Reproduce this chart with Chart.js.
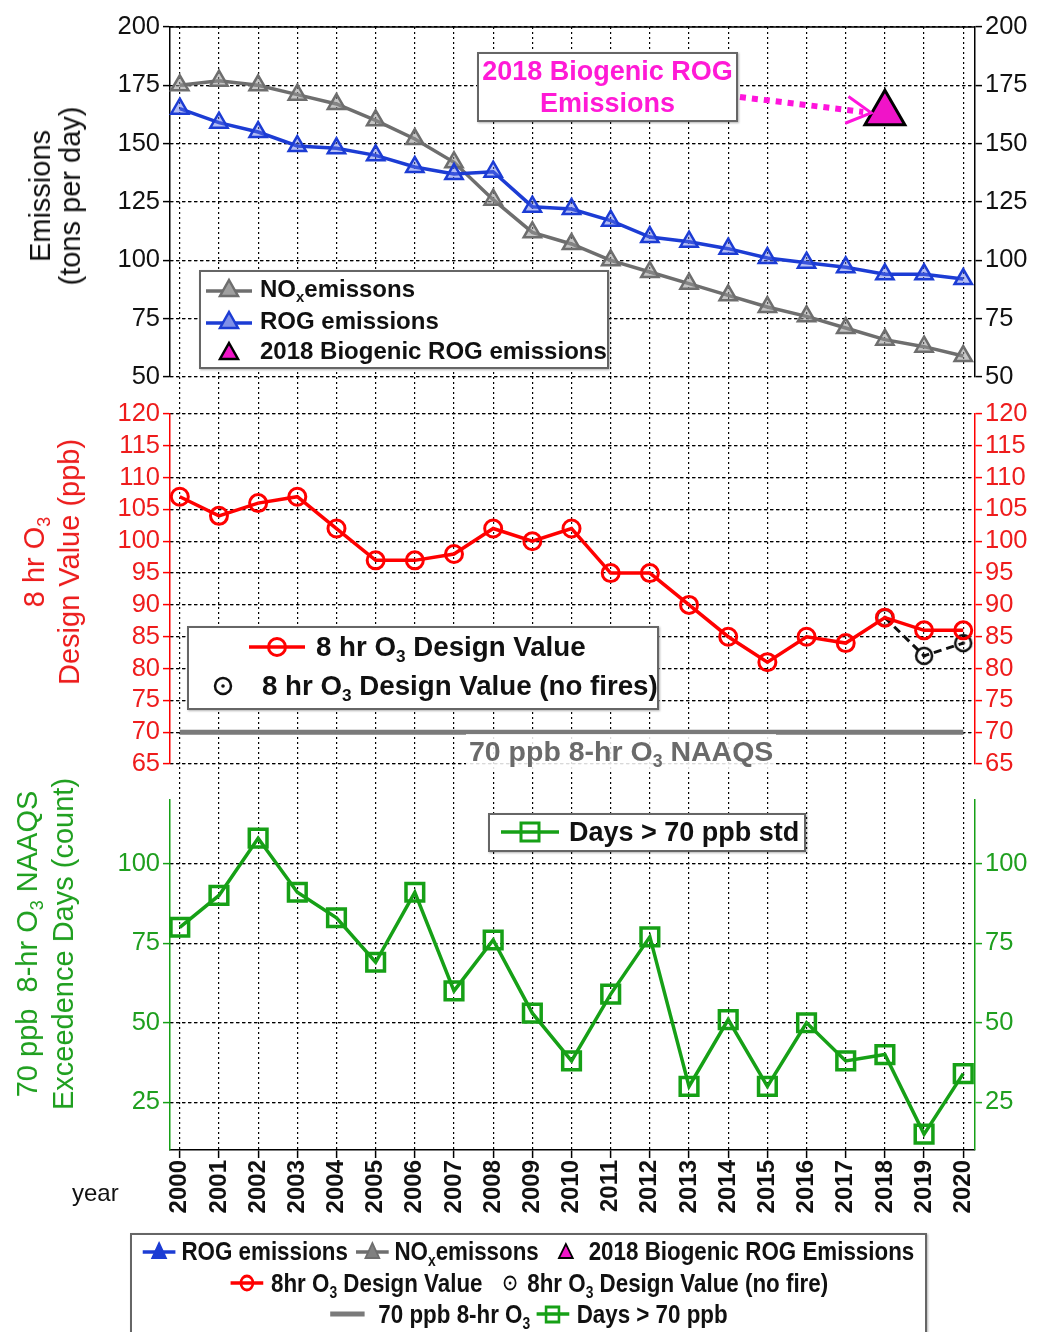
<!DOCTYPE html>
<html>
<head>
<meta charset="utf-8">
<script src="https://cdn.jsdelivr.net/npm/chart.js@4.4.1/dist/chart.umd.min.js"></script>
<style>
body { margin: 0; background: #fff; font-family: 'Liberation Sans', Arial, sans-serif; }
#wrap { position: relative; width: 1040px; height: 1332px; overflow: hidden; }
canvas { position: absolute; left: 0; top: 0; }
.box { position: absolute; background: #fff; border: 2px solid #666; box-sizing: border-box; box-shadow: 1px 1px 2px rgba(0,0,0,.3); }
.row { position: absolute; white-space: nowrap; font-weight: bold; color: #111; display: flex; align-items: center; height: 30px; }
.ytitle { position: absolute; transform: translate(-50%, -50%) rotate(-90deg); text-align: center; white-space: nowrap; font-size: 29px; }
sub { font-size: 0.62em; vertical-align: -0.35em; line-height: 0; }
.narrow { font-size: 26px; }
.bl { left: 0; right: 0; justify-content: center; }
.squeeze { display: flex; align-items: center; transform: scaleX(0.86); transform-origin: center; flex: none; }
</style>
</head>
<body>
<div id="wrap">
  <canvas id="chart" width="1040" height="1332"></canvas>

  <!-- axis titles -->
  <div class="ytitle" style="left:55px;top:196px;line-height:30px;color:#111">Emissions<br>(tons per day)</div>
  <div class="ytitle" style="left:52px;top:562px;line-height:35px;color:#ec1c1c">8 hr O<sub>3</sub><br>Design Value (ppb)</div>
  <div class="ytitle" style="left:45px;top:944px;line-height:36px;color:#1f9f1f">70 ppb&nbsp; 8-hr O<sub>3</sub> NAAQS<br>Exceedence Days (count)</div>
  <div style="position:absolute;left:72px;top:1179px;font-size:24px;color:#111">year</div>

  <!-- biogenic note -->
  <div class="box" style="left:477px;top:52px;width:261px;height:70px;text-align:center;font-weight:bold;font-size:27px;line-height:32px;color:#ff1ad6;padding-top:1px;white-space:nowrap">2018 Biogenic ROG<br>Emissions</div>

  <!-- emissions legend -->
  <div class="box" style="left:199px;top:270px;width:410px;height:99px;font-size:24px">
    <div class="row" style="left:4px;top:2px">
      <svg width="48" height="24"><line x1="1" y1="14" x2="47" y2="14" stroke="#6e6e6e" stroke-width="3.5"/><polygon points="24,3 33,19 15,19" fill="#a0a0a0" stroke="#6e6e6e" stroke-width="2.5"/></svg>
      <span style="margin-left:7px">NO<sub>x</sub>emissons</span></div>
    <div class="row" style="left:4px;top:34px">
      <svg width="48" height="24"><line x1="1" y1="14" x2="47" y2="14" stroke="#1c3cd4" stroke-width="3.5"/><polygon points="24,3 33,19 15,19" fill="#8090e8" stroke="#1c3cd4" stroke-width="2.5"/></svg>
      <span style="margin-left:7px">ROG emissions</span></div>
    <div class="row" style="left:4px;top:64px">
      <svg width="48" height="24"><polygon points="24,4 33,20 15,20" fill="#f014c8" stroke="#000" stroke-width="2.5"/></svg>
      <span style="margin-left:7px">2018 Biogenic ROG emissions</span></div>
  </div>

  <!-- design value legend -->
  <div class="box" style="left:187px;top:626px;width:472px;height:84px;font-size:27.7px">
    <div class="row" style="left:59px;top:4px">
      <svg width="58" height="24"><line x1="1" y1="12" x2="57" y2="12" stroke="#ff0000" stroke-width="3.5"/><circle cx="29" cy="12" r="8.5" fill="none" stroke="#ff0000" stroke-width="3"/></svg>
      <span style="margin-left:10px">8 hr O<sub>3</sub> Design Value</span></div>
    <div class="row" style="left:23px;top:43px">
      <svg width="22" height="22"><circle cx="11" cy="11" r="8" fill="none" stroke="#111" stroke-width="2.5"/><circle cx="11" cy="11" r="1.8" fill="#111"/></svg>
      <span style="margin-left:28px">8 hr O<sub>3</sub> Design Value (no fires)</span></div>
  </div>

  <div style="position:absolute;left:466px;top:734px;font-size:28.5px;font-weight:bold;color:#6a6a6a;background:rgba(255,255,255,.85);padding:0 3px;line-height:35px;white-space:nowrap">70 ppb 8-hr O<sub>3</sub> NAAQS</div>

  <!-- days legend -->
  <div class="box" style="left:488px;top:813px;width:318px;height:39px;font-size:27px">
    <div class="row" style="left:10px;top:2px">
      <svg width="60" height="26"><line x1="1" y1="13" x2="59" y2="13" stroke="#16a016" stroke-width="3.5"/><rect x="21" y="4" width="18" height="18" fill="none" stroke="#16a016" stroke-width="3"/></svg>
      <span style="margin-left:9px">Days &gt; 70 ppb std</span></div>
  </div>

  <!-- bottom legend -->
  <div class="box narrow" style="left:130px;top:1233px;width:797px;height:130px">
    <div class="row bl" style="top:1px"><div class="squeeze">
      <svg width="40" height="24"><line x1="1" y1="13" x2="39" y2="13" stroke="#1c3cd4" stroke-width="3.5"/><polygon points="20,4 28,19 12,19" fill="#1c3cd4" stroke="#1c3cd4" stroke-width="2"/></svg>
      <span style="margin-left:6px">ROG emissions</span>
      <svg width="40" height="24" style="margin-left:8px"><line x1="1" y1="13" x2="39" y2="13" stroke="#6e6e6e" stroke-width="3.5"/><polygon points="20,4 28,19 12,19" fill="#808080" stroke="#6e6e6e" stroke-width="2"/></svg>
      <span style="margin-left:6px">NO<sub>x</sub>emissons</span>
      <svg width="22" height="24" style="margin-left:20px"><polygon points="11,5 19,19 3,19" fill="#f014c8" stroke="#000" stroke-width="2"/></svg>
      <span style="margin-left:16px">2018 Biogenic ROG Emissions</span></div></div>
    <div class="row bl" style="top:33px"><div class="squeeze">
      <svg width="40" height="24"><line x1="1" y1="12" x2="39" y2="12" stroke="#ff0000" stroke-width="3.5"/><circle cx="20" cy="12" r="7" fill="none" stroke="#ff0000" stroke-width="3"/></svg>
      <span style="margin-left:8px">8hr O<sub>3</sub> Design Value</span>
      <svg width="20" height="20" style="margin-left:22px"><circle cx="10" cy="10" r="6.5" fill="none" stroke="#111" stroke-width="2"/><circle cx="10" cy="10" r="1.6" fill="#111"/></svg>
      <span style="margin-left:10px">8hr O<sub>3</sub> Design Value (no fire)</span></div></div>
    <div class="row bl" style="top:64px"><div class="squeeze">
      <svg width="44" height="24"><line x1="2" y1="12" x2="42" y2="12" stroke="#7a7a7a" stroke-width="5"/></svg>
      <span style="margin-left:14px">70 ppb 8-hr O<sub>3</sub></span>
      <svg width="40" height="24" style="margin-left:6px"><line x1="1" y1="12" x2="39" y2="12" stroke="#16a016" stroke-width="3.5"/><rect x="12" y="5" width="15" height="15" fill="none" stroke="#16a016" stroke-width="3"/></svg>
      <span style="margin-left:8px">Days &gt; 70 ppb</span></div></div>
  </div>
</div>

<script>
// ---- data ----
const years = [2000, 2001, 2002, 2003, 2004, 2005, 2006, 2007, 2008, 2009, 2010,
               2011, 2012, 2013, 2014, 2015, 2016, 2017, 2018, 2019, 2020];
const noxEmissions = [175, 177, 175, 171, 167, 160, 152, 142, 126, 112, 107,
                      100, 95, 90, 85, 80, 76, 71, 66, 63, 59];
const rogEmissions = [165, 159, 155, 149, 148, 145, 140, 137, 138, 123, 122,
                      117, 110, 108, 105, 101, 99, 97, 94, 94, 92];
const biogenicYears = [2018];
const biogenicRog = [163];
const designValue = [107, 104, 106, 107, 102, 97, 97, 98, 102, 100, 102,
                     95, 95, 90, 85, 81, 85, 84, 88, 86, 86];
const noFireYears = [2018, 2019, 2020];
const designValueNoFire = [88, 82, 84];
const naaqsYears = [2000, 2020];
const naaqsLevel = [70, 70];
const exceedDays = [80, 90, 108, 91, 83, 69, 91, 60, 76, 53, 38,
                    59, 77, 30, 51, 30, 50, 38, 40, 15, 34];

const emisTicks = [50, 75, 100, 125, 150, 175, 200];
const dvTicks = [65, 70, 75, 80, 85, 90, 95, 100, 105, 110, 115, 120];
const dayTicks = [25, 50, 75, 100];

// arrow from the note box to the biogenic marker (data units)
const arrowFrom = { x: 2014.3, y: 170 };
const arrowTo = { x: 2017.65, y: 163.2 };

const FONT = 'Liberation Sans';
const BLACK = '#111', RED = '#ff0000', GREEN = '#16a016', BLUE = '#1c3cd4', GRAY = '#6e6e6e';

const pts = (xs, ys) => xs.map((x, i) => ({ x: x, y: ys[i] }));

// circle with a dot, for the "no fires" points
const dotCircle = document.createElement('canvas');
dotCircle.width = 22; dotCircle.height = 22;
(function () {
    const c = dotCircle.getContext('2d');
    c.strokeStyle = BLACK; c.lineWidth = 2.5;
    c.beginPath(); c.arc(11, 11, 8, 0, Math.PI * 2); c.stroke();
    c.fillStyle = BLACK;
    c.beginPath(); c.arc(11, 11, 1.8, 0, Math.PI * 2); c.fill();
})();

// one panel axis (left or right side of the stack)
function panelAxis(side, height, weight, color, tickColor, min, max, tickList) {
    return {
        type: 'linear',
        position: side,
        stack: side === 'left' ? 'L' : 'R',
        stackWeight: height,
        weight: weight,
        min: min,
        max: max,
        afterBuildTicks: s => { s.ticks = tickList.map(v => ({ value: v })); },
        afterFit: s => { s.width = side === 'left' ? 170 : 65; },
        ticks: { color: tickColor, font: { family: FONT, size: 25.5 }, padding: 3, autoSkip: false },
        grid: { color: '#000', lineWidth: 1.2, tickColor: color, tickLength: 7, tickWidth: 1.5, tickBorderDash: [] },
        border: { color: color, width: 1.5, dash: [3, 3] }
    };
}

function spacer(side, height, weight) {
    return {
        type: 'linear',
        position: side,
        stack: side === 'left' ? 'L' : 'R',
        stackWeight: height,
        weight: weight,
        ticks: { display: false },
        grid: { display: false },
        border: { display: false },
        afterFit: s => { s.width = side === 'left' ? 170 : 65; }
    };
}

const decorPlugin = {
    id: 'decor',
    beforeDatasetsDraw(chart) {
        const { ctx, chartArea } = chart;
        ctx.save();
        ctx.strokeStyle = '#000';
        ctx.lineWidth = 1.5;
        ctx.beginPath();
        ctx.moveTo(chartArea.left, chartArea.top);
        ctx.lineTo(chartArea.right, chartArea.top);
        ctx.stroke();
        ctx.restore();
    },
    afterDatasetsDraw(chart) {
        const { ctx } = chart;
        const xs = chart.scales.x, ys = chart.scales.yE;
        const x0 = xs.getPixelForValue(arrowFrom.x), y0 = ys.getPixelForValue(arrowFrom.y);
        const x1 = xs.getPixelForValue(arrowTo.x), y1 = ys.getPixelForValue(arrowTo.y);
        const ang = Math.atan2(y1 - y0, x1 - x0);
        ctx.save();
        ctx.strokeStyle = '#ff14dc';
        ctx.lineWidth = 6;
        ctx.setLineDash([6, 6]);
        ctx.beginPath();
        ctx.moveTo(x0, y0);
        ctx.lineTo(x1 - 8 * Math.cos(ang), y1 - 8 * Math.sin(ang));
        ctx.stroke();
        ctx.setLineDash([]);
        ctx.lineWidth = 3;
        ctx.beginPath();
        ctx.moveTo(x1 - 28 * Math.cos(ang - 0.5), y1 - 28 * Math.sin(ang - 0.5));
        ctx.lineTo(x1, y1);
        ctx.lineTo(x1 - 28 * Math.cos(ang + 0.5), y1 - 28 * Math.sin(ang + 0.5));
        ctx.stroke();
        ctx.restore();
    }
};

new Chart(document.getElementById('chart'), {
    type: 'line',
    data: {
        datasets: [
            {
                label: '70 ppb 8-hr O3', data: pts(naaqsYears, naaqsLevel), yAxisID: 'yDV',
                borderColor: '#7a7a7a', borderWidth: 5, pointRadius: 0, order: 10
            },
            {
                label: 'NOx emissons', data: pts(years, noxEmissions), yAxisID: 'yE',
                borderColor: GRAY, borderWidth: 3.5, pointStyle: 'triangle', pointRadius: 10,
                pointBorderWidth: 2.5, pointBorderColor: GRAY, pointBackgroundColor: 'rgba(150,150,150,0.55)', order: 6
            },
            {
                label: 'ROG emissions', data: pts(years, rogEmissions), yAxisID: 'yE',
                borderColor: BLUE, borderWidth: 3.5, pointStyle: 'triangle', pointRadius: 10,
                pointBorderWidth: 2.5, pointBorderColor: BLUE, pointBackgroundColor: 'rgba(90,110,230,0.45)', order: 5
            },
            {
                label: '2018 Biogenic ROG Emissions', data: pts(biogenicYears, biogenicRog), yAxisID: 'yE',
                showLine: false, pointStyle: 'triangle', pointRadius: 23, pointBorderWidth: 3,
                pointBorderColor: '#000', pointBackgroundColor: '#f014c8', order: 1
            },
            {
                label: '8 hr O3 Design Value (no fires)', data: pts(noFireYears, designValueNoFire), yAxisID: 'yDV',
                borderColor: BLACK, borderWidth: 3, borderDash: [8, 5], pointStyle: dotCircle, order: 4
            },
            {
                label: '8 hr O3 Design Value', data: pts(years, designValue), yAxisID: 'yDV',
                borderColor: RED, borderWidth: 3.5, pointStyle: 'circle', pointRadius: 8.5,
                pointBorderWidth: 3, pointBorderColor: RED, pointBackgroundColor: 'rgba(255,255,255,0)', order: 3
            },
            {
                label: 'Days > 70 ppb', data: pts(years, exceedDays), yAxisID: 'yD',
                borderColor: GREEN, borderWidth: 3.5, pointStyle: 'rect', pointRadius: 12.5,
                pointBorderWidth: 3.5, pointBorderColor: GREEN, pointBackgroundColor: 'rgba(255,255,255,0)', order: 2
            }
        ]
    },
    options: {
        responsive: false,
        animation: false,
        clip: false,
        layout: { padding: { top: 27, left: 0, right: 0, bottom: 0 } },
        plugins: { legend: { display: false }, tooltip: { enabled: false } },
        scales: {
            x: {
                type: 'linear',
                position: 'bottom',
                min: 1999.75,
                max: 2020.3,
                afterBuildTicks: s => { s.ticks = years.map(v => ({ value: v })); },
                afterFit: s => { s.height = 182; },
                ticks: {
                    autoSkip: false, minRotation: 90, maxRotation: 90, padding: 2, color: BLACK,
                    font: { family: FONT, size: 24, weight: 'bold' },
                    callback: v => String(v)
                },
                grid: { color: '#000', lineWidth: 1.2, tickLength: 8, tickColor: '#000', tickWidth: 1.5, tickBorderDash: [] },
                border: { color: '#000', width: 1.5, dash: [2, 3] }
            },
            yE: panelAxis('left', 350, 5, '#000', BLACK, 50, 200, emisTicks),
            gL1: spacer('left', 37, 4),
            yDV: panelAxis('left', 350, 3, RED, '#ee1c1c', 65, 120, dvTicks),
            gL2: spacer('left', 36, 2),
            yD: panelAxis('left', 350, 1, GREEN, '#1f9f1f', 10, 120, dayTicks),
            yER: panelAxis('right', 350, 1, '#000', BLACK, 50, 200, emisTicks),
            gR1: spacer('right', 37, 2),
            yDVR: panelAxis('right', 350, 3, RED, '#ee1c1c', 65, 120, dvTicks),
            gR2: spacer('right', 36, 4),
            yDR: panelAxis('right', 350, 5, GREEN, '#1f9f1f', 10, 120, dayTicks)
        }
    },
    plugins: [decorPlugin]
});
</script>
</body>
</html>
